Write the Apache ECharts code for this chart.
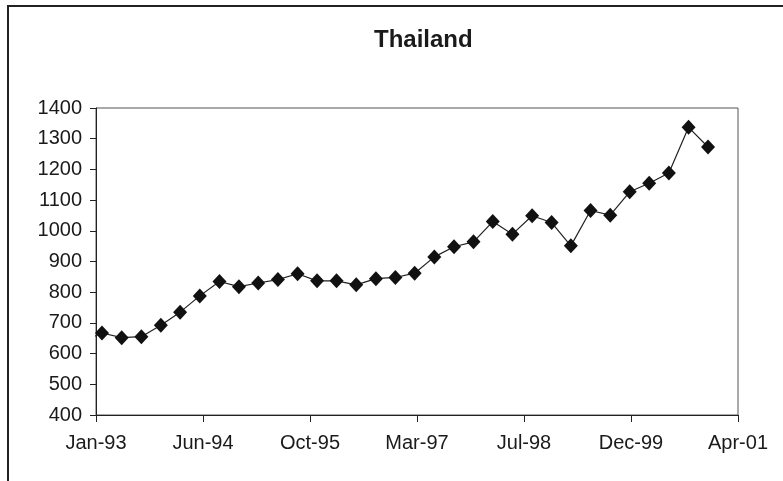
<!DOCTYPE html>
<html>
<head>
<meta charset="utf-8">
<script src="https://cdn.jsdelivr.net/npm/echarts@6/dist/echarts.min.js"></script>
<style>
html,body{margin:0;padding:0;background:#fff;}
#chart{width:783px;height:481px;}
</style>
</head>
<body>
<div id="chart"></div>
<script>
// Quarter-end observation dates (first one lies before the axis start and is only partly drawn)
var dates = [
  '1992-11-30',
  '1993-02-28','1993-05-31','1993-08-31','1993-11-30',
  '1994-02-28','1994-05-31','1994-08-31','1994-11-30',
  '1995-02-28','1995-05-31','1995-08-31','1995-11-30',
  '1996-02-29','1996-05-31','1996-08-31','1996-11-30',
  '1997-02-28','1997-05-31','1997-08-31','1997-11-30',
  '1998-02-28','1998-05-31','1998-08-31','1998-11-30',
  '1999-02-28','1999-05-31','1999-08-31','1999-11-30',
  '2000-02-29','2000-05-31','2000-08-31','2000-11-30'
];
var values = [
  640,
  667, 652, 655, 692,
  735, 788, 835, 818,
  830, 841, 860, 837,
  837, 824, 844, 848,
  862, 915, 948, 964,
  1030, 989, 1049, 1027,
  951, 1066, 1051, 1127,
  1155, 1188, 1337, 1273
];
var axisStartDate = '1993-01-31';
var xTickLabels = ['Jan-93','Jun-94','Oct-95','Mar-97','Jul-98','Dec-99','Apr-01'];
var yTicks = [400,500,600,700,800,900,1000,1100,1200,1300,1400];
var title = 'Thailand';

function dayNum(s){
  var p = s.split('-');
  return Date.UTC(+p[0], +p[1]-1, +p[2]) / 86400000;
}
var d0 = dayNum(axisStartDate);
var seriesData = dates.map(function(d, i){
  var item = { value: [dayNum(d) - d0, values[i]] };
  if (dayNum(d) < d0) item.symbol = 'none';
  return item;
});
var xStep = 500;

var chart = echarts.init(document.getElementById('chart'), null, {renderer:'canvas'});
chart.setOption({
  animation: false,
  backgroundColor: '#fff',
  title: {
    text: title,
    left: 369,
    top: 23,
    textStyle: { fontFamily: 'Liberation Sans, Arial, sans-serif', fontSize: 24, fontWeight: 'bold', color: '#1a1a1a' }
  },
  graphic: [{
    type: 'rect',
    shape: { x: 8, y: 6, width: 900, height: 700 },
    style: { fill: 'none', stroke: '#222', lineWidth: 2 },
    silent: true
  }],
  grid: {
    left: 96, right: 45, top: 108, bottom: 66,
    show: true, borderColor: '#555', borderWidth: 1, backgroundColor: 'transparent'
  },
  xAxis: {
    type: 'value',
    min: 0,
    max: xStep * (xTickLabels.length - 1),
    interval: xStep,
    splitLine: { show: false },
    axisLine: { show: true, onZero: false, lineStyle: { color: '#222', width: 1 } },
    axisTick: { show: true, inside: false, length: 7, lineStyle: { color: '#222' } },
    axisLabel: {
      margin: 18,
      fontFamily: 'Liberation Sans, Arial, sans-serif', fontSize: 20, color: '#1a1a1a',
      formatter: function(v){ return xTickLabels[Math.round(v / xStep)] || ''; }
    }
  },
  yAxis: {
    type: 'value',
    min: yTicks[0],
    max: yTicks[yTicks.length - 1],
    interval: 100,
    splitLine: { show: false },
    axisLine: { show: true, lineStyle: { color: '#222', width: 1 } },
    axisTick: { show: true, inside: false, length: 6, lineStyle: { color: '#222' } },
    axisLabel: {
      margin: 14,
      fontFamily: 'Liberation Sans, Arial, sans-serif', fontSize: 20, color: '#1a1a1a',
      formatter: function(v){ return String(v); }
    }
  },
  series: [{
    type: 'line',
    data: seriesData,
    clip: false,
    symbol: 'diamond',
    symbolSize: [14, 15],
    itemStyle: { color: '#111' },
    lineStyle: { color: '#222', width: 1.2 },
    z: 5
  }]
});
</script>
</body>
</html>
